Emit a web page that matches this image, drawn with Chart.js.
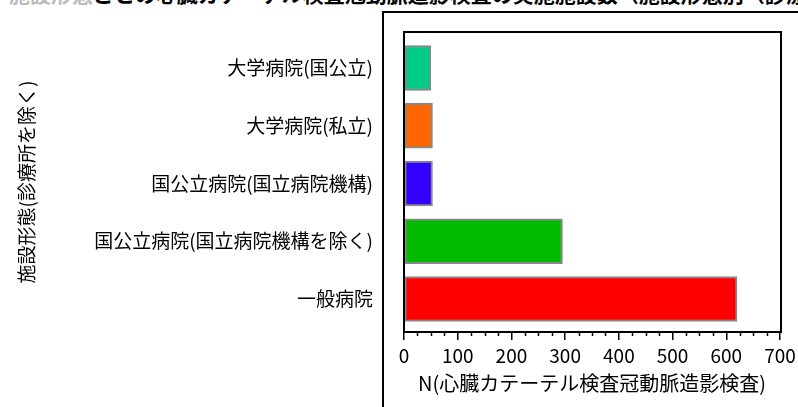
<!DOCTYPE html>
<html>
<head>
<meta charset="utf-8">
<script src="https://cdn.jsdelivr.net/npm/chart.js@4"></script>
<style>
  html, body { margin: 0; padding: 0; background: #fff; overflow: hidden; }
  #wrap { position: relative; width: 798px; height: 407px; overflow: hidden; }
  #title {
    position: absolute; left: 9px; top: -17px; white-space: nowrap;
    font: bold 21px "Noto Sans CJK JP"; line-height: 21px; color: #000;
  }
  #title span { color: #bbb; }
  #frame {
    position: absolute; left: 382px; top: 11px; width: 420px; height: 400px;
    border-left: 2px solid #000; border-top: 2px solid #000; z-index: 2;
  }
  canvas { position: absolute; left: 0; top: 0; z-index: 1; }
</style>
</head>
<body>
<div id="wrap">
  <div id="title"><span>施設形態</span>ごとの心臓カテーテル検査冠動脈造影検査の実施施設数（施設形態別（診療所を除く））</div>
  <canvas id="chart" width="798" height="407"></canvas>
  <div id="frame"></div>
</div>
<script>
const categories = [
    "大学病院(国公立)",
    "大学病院(私立)",
    "国公立病院(国立病院機構)",
    "国公立病院(国立病院機構を除く)",
    "一般病院"
];
const counts = [50, 53, 53, 295, 620];
const barColors = ["#00cc88", "#ff6600", "#3300ff", "#00bb00", "#ff0000"];
const xTicks = [0, 100, 200, 300, 400, 500, 600, 700];
const minorStep = 25;

const font = "Noto Sans CJK JP";

// frame round the plot and the minor ticks
const framePlugin = {
    id: "frame",
    afterDraw(c) {
        const ctx = c.ctx;
        const a = c.chartArea;
        const x = c.scales.x;
        ctx.save();
        ctx.strokeStyle = "#000";

        ctx.lineWidth = 2;
        ctx.strokeRect(a.left, a.top, a.right - a.left + 1, a.bottom - a.top);

        ctx.lineWidth = 1.5;
        ctx.beginPath();
        for (let v = minorStep; v < xTicks[xTicks.length - 1]; v += minorStep) {
            if (v % 100 === 0) continue;
            const px = Math.round(x.getPixelForValue(v)) + 0.5;
            ctx.moveTo(px, a.bottom);
            ctx.lineTo(px, a.bottom + 4);
        }
        ctx.stroke();
        ctx.restore();
    }
};

new Chart(document.getElementById("chart"), {
    type: "bar",
    data: {
        datasets: [{
            data: counts.map((v, i) => ({ x: v, y: i })),
            backgroundColor: barColors,
            borderColor: "#888",
            borderWidth: 2,
            borderSkipped: false,
            barThickness: 45
        }]
    },
    options: {
        indexAxis: "y",
        responsive: false,
        animation: false,
        layout: { padding: { left: 0, right: 18, top: 32, bottom: 0 } },
        plugins: { legend: { display: false }, tooltip: { enabled: false } },
        scales: {
            x: {
                type: "linear",
                min: xTicks[0],
                max: xTicks[xTicks.length - 1],
                afterBuildTicks: s => { s.ticks = xTicks.map(v => ({ value: v })); },
                afterFit: s => { s.height = 75; s.paddingLeft = 0; s.paddingRight = 0; },
                grid: { drawOnChartArea: false, tickLength: 8, color: "#000", lineWidth: 1.5 },
                border: { display: false },
                ticks: { color: "#000", padding: 4, font: { family: font, size: 19 } },
                title: {
                    display: true,
                    text: "N(心臓カテーテル検査冠動脈造影検査)",
                    color: "#000",
                    font: { family: font, size: 20 },
                    padding: { top: 0, bottom: 12 }
                }
            },
            y: {
                type: "linear",
                offset: false,
                reverse: true,
                min: -0.623,
                max: 4.572,
                afterFit: s => { s.width = 404; s.paddingTop = 0; s.paddingBottom = 0; },
                grid: { display: false, drawTicks: false, offset: false },
                border: { display: false },
                ticks: {
                    stepSize: 1,
                    includeBounds: false,
                    autoSkip: false,
                    padding: 31,
                    color: "#000",
                    font: { family: font, size: 19 },
                    callback: v => Number.isInteger(v) ? categories[v] : ""
                },
                title: {
                    display: true,
                    text: "施設形態(診療所を除く)",
                    color: "#000",
                    font: { family: font, size: 19 },
                    padding: { top: 15, bottom: 0 }
                }
            }
        }
    },
    plugins: [framePlugin]
});
</script>
</body>
</html>
